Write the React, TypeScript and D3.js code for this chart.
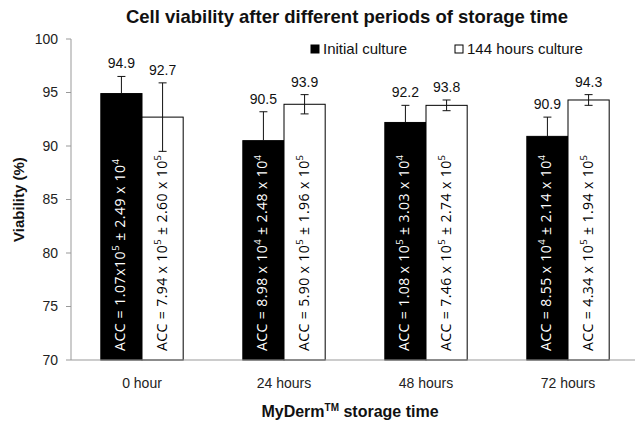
import React from "react"
import * as d3 from "d3"

const categories = ["0 hour", "24 hours", "48 hours", "72 hours"]
const seriesNames = ["Initial culture", "144 hours culture"]
const initialValues = [94.9, 90.5, 92.2, 90.9]
const initialErrors = [1.6, 2.7, 1.6, 1.8]
const cultureValues = [92.7, 93.9, 93.8, 94.3]
const cultureErrors = [3.2, 0.9, 0.5, 0.5]
const initialAcc = [
  "ACC = 1.07x10^5 ± 2.49 x 10^4",
  "ACC = 8.98 x 10^4 ± 2.48 x 10^4",
  "ACC = 1.08 x 10^5 ± 3.03 x 10^4",
  "ACC = 8.55 x 10^4 ± 2.14 x 10^4",
]
const cultureAcc = [
  "ACC = 7.94 x 10^5 ± 2.60 x 10^5",
  "ACC = 5.90 x 10^5 ± 1.96 x 10^5",
  "ACC = 7.46 x 10^5 ± 2.74 x 10^5",
  "ACC = 4.34 x 10^5 ± 1.94 x 10^5",
]
const yTicks = [70, 75, 80, 85, 90, 95, 100]

const W = 635
const H = 422
const FONT = "'Liberation Sans', Arial, sans-serif"
const ACC_FONT = "'Open Sans', 'Noto Sans', sans-serif"

// "10^5" -> 10 with superscript 5
const supParts = (s: string) => {
  const parts = s.split(/\^(\d)/)
  return parts.map((p, i) => ({ text: p, sup: i % 2 === 1 }))
}

const AccText = ({ x, y, label, fill, len }: { x: number; y: number; label: string; fill: string; len: number }) => {
  const parts = supParts(label)
  return (
    <text
      transform={`translate(${x},${y}) rotate(-90)`}
      fontFamily={ACC_FONT}
      fontSize={14}
      fill={fill}
      dominantBaseline="middle"
      textLength={len}
      lengthAdjust="spacing"
    >
      {parts.map((p, i) => {
        const prevSup = i > 0 && parts[i - 1].sup
        const dy = p.sup ? -5 : prevSup ? 5 : 0
        return (
          <tspan key={i} dy={dy} fontSize={p.sup ? 9.5 : 14}>
            {p.text}
          </tspan>
        )
      })}
    </text>
  )
}

export default function App() {
  const x = d3
    .scaleBand<string>()
    .domain(categories)
    .range([71, 639])
    .paddingInner(0.42)
    .paddingOuter(0.21)
  const xs = d3.scaleBand<string>().domain(seriesNames).range([0, x.bandwidth()])
  const y = d3.scaleLinear().domain([70, 100]).range([360, 39])

  const series = [
    { name: seriesNames[0], values: initialValues, errors: initialErrors, acc: initialAcc, fill: "#000", text: "#fff" },
    { name: seriesNames[1], values: cultureValues, errors: cultureErrors, acc: cultureAcc, fill: "#fff", text: "#000" },
  ]
  const x0 = x.range()[0]

  return (
    <svg
      width={W}
      height={H}
      style={{ position: "absolute", left: 0, top: 0, background: "#fff" }}
      fontFamily={FONT}
    >
      <text x={347} y={23} textAnchor="middle" fontSize={18.5} fontWeight="bold" fill="#111">
        Cell viability after different periods of storage time
      </text>

      {/* y axis */}
      <line x1={x0} x2={x0} y1={y(100)} y2={y(70)} stroke="#999" />
      {yTicks.map((t) => (
        <g key={t}>
          <line x1={x0 - 5} x2={x0} y1={y(t)} y2={y(t)} stroke="#999" />
          <text x={x0 - 13} y={y(t)} dy="0.35em" textAnchor="end" fontSize={14} fill="#222">
            {t}
          </text>
        </g>
      ))}
      <text
        transform={`translate(24,${(y(70) + y(100)) / 2}) rotate(-90)`}
        textAnchor="middle"
        fontSize={15}
        fontWeight="bold"
        fill="#111"
      >
        Viability (%)
      </text>

      {/* bars */}
      {series.map((s, si) =>
        categories.map((c, i) => {
          const bx = (x(c) as number) + (xs(s.name) as number)
          const bw = xs.bandwidth()
          const cx = bx + bw / 2
          const top = y(s.values[i])
          const eTop = y(s.values[i] + s.errors[i])
          const eBot = y(s.values[i] - s.errors[i])
          return (
            <g key={s.name + c}>
              <rect x={bx} y={top} width={bw} height={y(70) - top} fill={s.fill} stroke="#000" strokeWidth={1} />
              <line x1={cx} x2={cx} y1={eTop} y2={si === 0 ? top : eBot} stroke="#111" />
              <line x1={cx - 4} x2={cx + 4} y1={eTop} y2={eTop} stroke="#111" />
              {si === 1 && <line x1={cx - 4} x2={cx + 4} y1={eBot} y2={eBot} stroke="#111" />}
              <text x={cx} y={eTop - 8} textAnchor="middle" fontSize={14} fill="#111">
                {s.values[i].toFixed(1)}
              </text>
              <AccText x={cx} y={351} label={s.acc[i]} fill={s.text} len={i === 0 && si === 0 ? 192 : 196} />
            </g>
          )
        })
      )}

      {/* x axis */}
      <line x1={x0} x2={W} y1={y(70)} y2={y(70)} stroke="#999" />
      {categories.map((c) => (
        <text key={c} x={(x(c) as number) + x.bandwidth() / 2} y={388} textAnchor="middle" fontSize={14} fill="#222">
          {c}
        </text>
      ))}
      <text x={350} y={417} textAnchor="middle" fontSize={16} fontWeight="bold" fill="#111">
        MyDerm<tspan fontSize={10} dy={-6}>TM</tspan>
        <tspan dy={6}> storage time</tspan>
      </text>

      {/* legend */}
      {series.map((s, i) => {
        const lx = i === 0 ? 311 : 455
        return (
          <g key={s.name}>
            <rect x={lx} y={45} width={8} height={8} fill={s.fill} stroke="#000" />
            <text x={lx + 12} y={54} fontSize={15} fill="#111">
              {s.name}
            </text>
          </g>
        )
      })}
    </svg>
  )
}
